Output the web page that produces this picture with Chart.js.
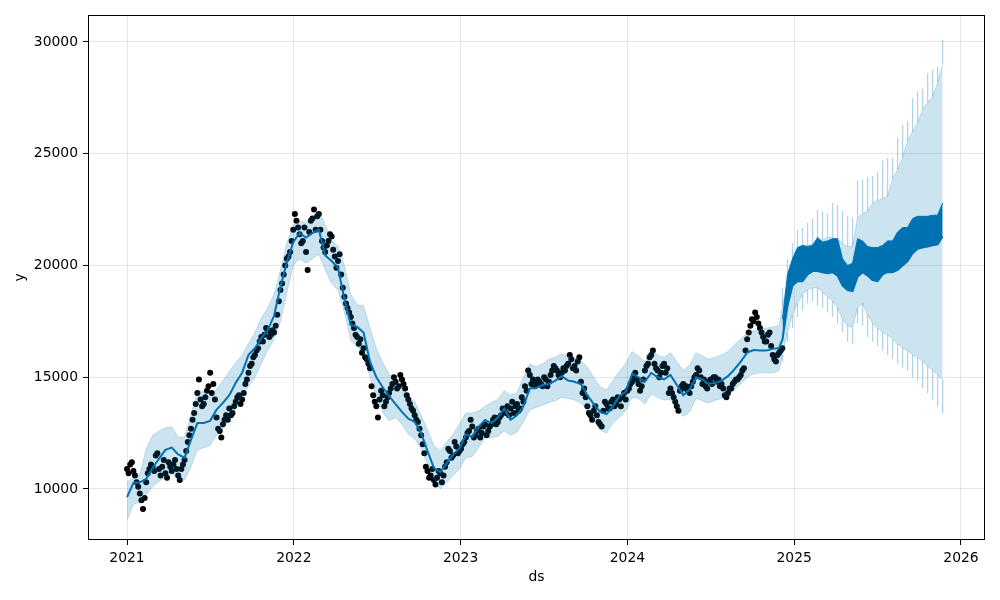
<!DOCTYPE html>
<html>
<head>
<meta charset="utf-8">
<script src="https://cdn.jsdelivr.net/npm/chart.js@4.4.1/dist/chart.umd.min.js"></script>
<style>
  html, body { margin: 0; padding: 0; background: #fff; }
  #wrap { width: 1000px; height: 600px; }
</style>
</head>
<body>
<div id="wrap"><canvas id="forecast" width="1000" height="600"></canvas></div>
<script>
// observed values, one per week from the start of 2021
const obsStart = 2021.0;
const obsStep = 7 / 365.25;
const obsY = [
  10900, 11100, 10800, 10300, 9800, 9100, 10300, 10900, 11000, 11500,
  10900, 11000, 10700, 11200, 10800, 11300, 10600, 10900, 11300, 12100,
  12700, 13400, 14300, 14000, 13800, 14400, 15200, 14700, 13200, 12600,
  12900, 13300, 13600, 13400, 13900, 14200, 14000, 14700, 15200, 15600,
  16000, 16300, 16800, 16900, 17100, 16900, 17000, 17800, 18900, 19600,
  20300, 20600, 21600, 22000, 21400, 21100, 20600, 21500, 22100, 21600,
  22300, 21100, 20600, 21100, 21300, 20400, 20200, 19600, 18600, 18100,
  17700, 17200, 16800, 16700, 16300, 15800, 15400, 14200, 13700, 14000,
  14200, 13900, 14300, 14700, 14800, 14600, 14900, 14500, 14000, 13600,
  13300, 13000, 12400, 11600, 10800, 10600, 10400, 10500, 10700, 10600,
  11200, 11700, 11500, 11900, 11700, 12000, 12300, 12600, 12800, 12400,
  12700, 12500, 12900, 12600, 12900, 13200, 13000, 13300, 13500, 13700,
  13600, 13400, 13800, 13600, 13900, 14400, 15100, 14900, 14700, 14800,
  14600, 14900, 14800, 15300, 15400, 15100, 15200, 15300, 15600, 15800,
  15500, 15700, 14800, 14500, 13700, 13300, 13500, 13300, 12900, 13500,
  13800, 13600, 14000, 13800, 14000, 14100, 14000, 14500, 14800, 15200,
  14700, 14600, 15300, 15600, 16000, 15600, 15300, 15200, 15600, 15400,
  14500, 14100, 13700, 14400, 14700, 14600, 14300, 14800, 15100, 15300,
  14700, 14600, 14800, 14700, 15000, 14900, 14700, 14200, 14300, 14500,
  14800, 14900, 15100, 15400, 16700, 17300, 17500, 17700, 17200, 16800,
  16600, 17000, 16000, 15700, 16100, 16300
];
// mid-week observations, half a week after each value above
const obsMidStart = 2021.0 + 3.5 / 365.25;
const obsMidY = [
  10700, 11200, 10600, 10100, 9500, 9600, 10700, 11100, 10800, 11600,
  10600, 11300, 10500, 11000, 11100, 10900, 10400, 11100, 11700, 12400,
  13100, 13800, 14900, 13700, 14100, 14600, 14300, 14000, 12700, 12300,
  13100, 13100, 13300, 13700, 14100, 13800, 14300, 14900, 15500, 15900,
  16200, 16600, 16600, 17200, 16800, 17100, 17300, 18400, 19200, 20000,
  20400, 21100, 22300, 21700, 21000, 21700, 19800, 22000, 22500, 22200,
  21600, 20800, 20900, 21400, 20700, 19900, 20500, 19000, 18300, 17900,
  17400, 16900, 16500, 16100, 15900, 15600, 14600, 13900, 13200, 14400,
  13700, 14100, 14500, 15000, 14500, 15100, 14700, 14200, 13800, 13500,
  13100, 12700, 12000, 11000, 10500, 10900, 10200, 10800, 10300, 11000,
  11800, 11400, 12100, 11600, 11800, 12100, 12500, 13100, 12300, 12600,
  12300, 12800, 12400, 12800, 13100, 12900, 13200, 13600, 13400, 13300,
  13900, 13700, 13500, 14100, 14600, 15300, 14700, 14600, 14900, 14700,
  15000, 14600, 15100, 15500, 15300, 15000, 15400, 15500, 16000, 15400,
  15300, 15900, 14300, 14100, 13400, 13100, 13700, 13000, 12800, 13900,
  13600, 13900, 13700, 14100, 13700, 14300, 14400, 14700, 15000, 14900,
  14400, 14900, 15500, 15900, 16200, 15400, 15000, 15500, 15200, 14300,
  14300, 13900, 13500, 14600, 14500, 14400, 14600, 15000, 15400, 15000,
  14900, 14500, 14900, 15000, 14800, 14600, 14500, 14100, 14500, 14700,
  14900, 15000, 15300, 16200, 17000, 17600, 17900, 17400, 17000, 16600,
  16900, 16400, 15800, 16000, 16200
];

// fitted yhat and interval over the history, every two weeks
const fitStart = 2021.0;
const fitStep = 14 / 365.25;
const fitYhat = [
  9640, 10270, 10300, 10450, 10950, 11350, 11750, 11850, 11550, 11400,
  12200, 12950, 12950, 13050, 13550, 13850, 14200, 14750, 15200, 16000,
  16300, 16750, 17100, 17750, 19050, 20150, 21050, 21450, 21250, 21450,
  21600, 20450, 20200, 19900, 18500, 17350, 17250, 17000, 15700, 15000,
  14550, 14150, 13800, 13450, 13150, 13000, 12500, 11700, 10950, 10750,
  11150, 11550, 11800, 12450, 12330, 12780, 13090, 12950, 13200, 13600,
  13100, 13300, 13700, 14500, 14520, 14650, 14700, 14850, 15050, 14850,
  14800, 14700, 14200, 13800, 13450, 13350, 13700, 14150, 14350, 15150,
  15000, 14800, 15200, 15000, 14900, 15100, 14650, 14200, 14450, 15000,
  14900, 14700, 14750, 14850, 15050, 15350, 15700, 16100, 16220, 16200,
  16200, 16270, 16310
];
const fitUpper = [
  10300, 10500, 10650, 11800, 12400, 12600, 12730, 12780, 12330, 12330,
  13300, 14350, 14350, 14100, 14450, 14850, 15250, 15650, 16000, 16500,
  17000, 17650, 18100, 18700, 19800, 21000, 21800, 22000, 21900, 22200,
  22450, 21800, 21150, 20850, 20000, 18700, 18240, 18200, 17200, 16300,
  15650, 15150, 14800, 14500, 14080, 13900, 13300, 12650, 11950, 11700,
  12100, 12450, 12900, 13400, 13400, 13500, 13700, 13870, 14000, 14400,
  14200, 14300, 15000, 15600, 15470, 15600, 15800, 15900, 16050, 15950,
  15850, 15750, 15450, 15000, 14560, 14430, 14850, 15250, 15600, 16150,
  15950, 15700, 16200, 16000, 15900, 16100, 15700, 15300, 15550, 16100,
  15950, 15800, 15900, 16000, 16150, 16450, 16700, 16980, 17080, 17150,
  17200, 17250, 17300
];
const fitLower = [
  8600, 9300, 9450, 9750, 10100, 10350, 10540, 10720, 10400, 10400,
  11000, 11750, 11850, 11950, 12400, 12700, 13100, 13650, 14100, 14600,
  15000, 15600, 16200, 16700, 17500, 18800, 20000, 20300, 20100, 20300,
  20500, 19800, 19200, 18900, 17900, 16650, 16350, 16100, 15000, 14150,
  13450, 13050, 13200, 12900, 12450, 12250, 11800, 11100, 10400, 10000,
  10300, 10600, 10900, 11400, 11450, 11850, 12300, 12300, 12350, 12600,
  12400, 12550, 13000, 13550, 13650, 13750, 13870, 13950, 14100, 14050,
  13980, 13850, 13500, 13080, 12640, 12500, 12950, 13200, 13500, 14100,
  14050, 13800, 14250, 14100, 13980, 14000, 13700, 13250, 13450, 14050,
  13950, 13850, 13970, 14050, 14150, 14450, 14700, 15000, 15150, 15200,
  15200, 15200, 15300
];

// forecast horizon (weekday level, weekend level, interval edges and their spikes)
const fcStart = 2024.93;
const fcStep = 0.03;
const fcYhatLow = [
  16700, 18200, 19100, 19300, 19300, 19600, 19750, 19750, 19700, 19650, 19700,
  19550, 19100, 18900, 18850, 19500, 19700, 19550, 19350, 19300, 19600, 19700,
  19700, 19800, 20000, 20200, 20550, 20750, 20800, 20850, 20900, 20950, 21300
];
const fcYhatHigh = [
  17600, 19600, 20300, 20800, 20900, 20850, 20900, 21250, 21050, 21100, 21200,
  21200, 20300, 20000, 20100, 21200, 21100, 20850, 20800, 20800, 20900, 21100,
  21100, 21500, 21700, 21700, 22100, 22200, 22200, 22200, 22250, 22250, 22800
];
const fcUpper = [
  18200, 19300, 20300, 20700, 20800, 20900, 20950, 21100, 21150, 21250, 21250,
  21200, 21000, 20850, 20850, 22150, 22300, 22450, 22800, 22900, 23000, 23100,
  23900, 24300, 24850, 25600, 26000, 26400, 27000, 27300, 27550, 28200, 29000
];
const fcUpperPeak = [
  19000, 20300, 21000, 21600, 21700, 21900, 22100, 22480, 22400, 22300, 22800,
  22700, 22450, 22200, 22150, 23800, 23850, 23950, 24000, 24200, 24700, 24800,
  24800, 25700, 26300, 26450, 27500, 27800, 27900, 28600, 28750, 28900, 30100
];
const fcLower = [
  16000, 17000, 17800, 18300, 18700, 18900, 19000, 19000, 18800, 18600, 18400,
  18100, 17600, 17300, 17200, 18100, 18300, 17800, 17400, 17200, 17000, 16900,
  16700, 16500, 16300, 16200, 16000, 15900, 15700, 15500, 15300, 15100, 14900
];
const fcLowerPeak = [
  15700, 16600, 17200, 17700, 18000, 18300, 18400, 18200, 18100, 17900, 17700,
  17400, 17000, 16600, 16500, 17400, 17300, 16800, 16600, 16400, 16200, 16000,
  15800, 15600, 15400, 15300, 15000, 14850, 14500, 14300, 14000, 13700, 13400
];

const xTicks = [2021, 2022, 2023, 2024, 2025, 2026];
const yTicks = [10000, 15000, 20000, 25000, 30000];

const BLUE = '#0072B2';
const BAND = 'rgba(0,114,178,0.2)';

function pts(start, step, ys) {
  return ys.map((y, i) => ({ x: start + i * step, y: y }));
}
// short vertical strokes between two series, broken by gaps
function strokes(start, step, a, b) {
  const out = [];
  a.forEach((v, i) => {
    const x = start + i * step;
    out.push({ x: x, y: v }, { x: x, y: b[i] }, { x: x, y: null });
  });
  return out;
}

const bandUpper = pts(fitStart, fitStep, fitUpper).concat(pts(fcStart, fcStep, fcUpper));
const bandLower = pts(fitStart, fitStep, fitLower).concat(pts(fcStart, fcStep, fcLower));
const yhatLine = pts(fitStart, fitStep, fitYhat).concat(pts(fcStart, fcStep, fcYhatLow));
const observed = pts(obsStart, obsStep, obsY).concat(pts(obsMidStart, obsStep, obsMidY));

const frame = {
  id: 'frame',
  afterDraw(chart) {
    const { ctx, chartArea: a } = chart;
    ctx.save();
    ctx.strokeStyle = '#000';
    ctx.lineWidth = 1;
    ctx.strokeRect(a.left + 0.5, a.top + 0.5, a.right - a.left - 1, a.bottom - a.top - 1);
    ctx.restore();
  }
};

const font = { family: 'DejaVu Sans', size: 13.9 };

new Chart(document.getElementById('forecast'), {
  type: 'line',
  data: {
    datasets: [
      { data: bandUpper, fill: 1, backgroundColor: BAND, borderColor: BAND, borderWidth: 1, pointRadius: 0, order: 1 },
      { data: bandLower, fill: false, borderColor: BAND, borderWidth: 1, pointRadius: 0, order: 1 },
      { data: strokes(fcStart, fcStep, fcUpper, fcUpperPeak), borderColor: 'rgba(0,114,178,0.3)', borderWidth: 1.3, pointRadius: 0, spanGaps: false, order: 0 },
      { data: strokes(fcStart, fcStep, fcLower, fcLowerPeak), borderColor: 'rgba(0,114,178,0.3)', borderWidth: 1.3, pointRadius: 0, spanGaps: false, order: 0 },
      { data: pts(fcStart, fcStep, fcYhatHigh), fill: 5, backgroundColor: BLUE, borderColor: BLUE, borderWidth: 1, pointRadius: 0, order: 3 },
      { data: pts(fcStart, fcStep, fcYhatLow), fill: false, borderWidth: 0, pointRadius: 0, order: 3 },
      { data: yhatLine, fill: false, borderColor: BLUE, borderWidth: 2, pointRadius: 0, order: 4 },
      { data: observed, showLine: false, pointRadius: 3, pointBorderWidth: 0, pointBackgroundColor: '#000', order: 5 }
    ]
  },
  options: {
    responsive: false,
    animation: false,
    layout: { padding: { top: 15, right: 15, left: 0, bottom: 0 } },
    plugins: { legend: { display: false }, tooltip: { enabled: false } },
    scales: {
      x: {
        type: 'linear',
        min: 2020.766,
        max: 2026.144,
        offset: false,
        afterBuildTicks: s => { s.ticks = xTicks.map(v => ({ value: v })); },
        afterFit: s => { s.height = 60; },
        ticks: { color: '#000', font: font, padding: 5, maxRotation: 0, callback: v => String(v) },
        grid: { offset: false, color: 'rgba(128,128,128,0.2)', tickColor: '#000', tickLength: 5 },
        border: { display: false },
        title: { display: true, text: 'ds', color: '#000', font: font, padding: { top: 0, bottom: 14.7 } }
      },
      y: {
        min: 7718,
        max: 31208,
        afterBuildTicks: s => { s.ticks = yTicks.map(v => ({ value: v })); },
        afterFit: s => { s.width = 88; },
        ticks: { color: '#000', font: font, padding: 5, callback: v => String(v) },
        grid: { color: 'rgba(128,128,128,0.2)', tickColor: '#000', tickLength: 5 },
        border: { display: false },
        title: { display: true, text: 'y', color: '#000', font: font, padding: { top: 11.7, bottom: 0 } }
      }
    }
  },
  plugins: [frame]
});
</script>
</body>
</html>
